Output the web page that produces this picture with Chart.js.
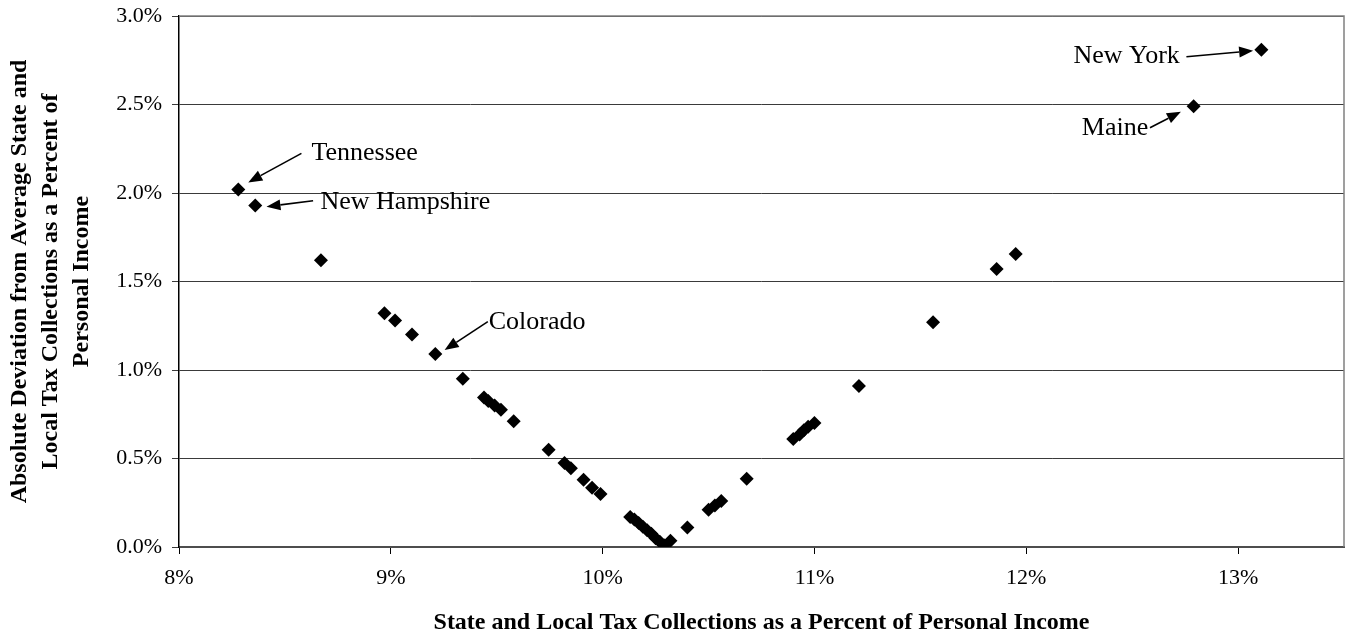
<!DOCTYPE html>
<html>
<head>
<meta charset="utf-8">
<title>Tax collections deviation</title>
<script src="https://cdn.jsdelivr.net/npm/chart.js@4.4.1/dist/chart.umd.min.js"></script>
<style>
  html, body { margin: 0; padding: 0; background: #fff; }
  #wrap { width: 1351px; height: 636px; }
</style>
</head>
<body>
<div id="wrap"><canvas id="chart" width="1351" height="636"></canvas></div>
<script>
  // state & local tax collections, % of personal income
  const taxShare = [
    8.28, 8.36, 8.67, 8.97, 9.02, 9.10, 9.21, 9.34, 9.44, 9.46,
    9.49, 9.52, 9.58, 9.745, 9.82, 9.85, 9.91, 9.95, 9.99, 10.13,
    10.15, 10.17, 10.19, 10.21, 10.23, 10.25, 10.27, 10.29, 10.32, 10.40,
    10.50, 10.53, 10.56, 10.68, 10.90, 10.93, 10.95, 10.97, 11.00, 11.21,
    11.56, 11.86, 11.95, 12.79, 13.11
  ];
  // absolute deviation from the average, % of personal income
  const deviation = [
    2.02, 1.93, 1.62, 1.32, 1.28, 1.20, 1.09, 0.95, 0.845, 0.825,
    0.80, 0.775, 0.71, 0.55, 0.475, 0.445, 0.38, 0.335, 0.30, 0.17,
    0.155, 0.135, 0.115, 0.095, 0.075, 0.05, 0.03, 0.01, 0.035, 0.11,
    0.21, 0.235, 0.26, 0.385, 0.61, 0.635, 0.66, 0.68, 0.70, 0.91,
    1.27, 1.57, 1.655, 2.49, 2.81
  ];

  const xTicks = [8, 9, 10, 11, 12, 13];
  const yTicks = [0, 0.5, 1.0, 1.5, 2.0, 2.5, 3.0];

  const xTitle = "State and Local Tax Collections as a Percent of Personal Income";
  const yTitle = [
    "Absolute Deviation from Average State and",
    "Local Tax Collections as a Percent of",
    "Personal Income"
  ];

  // callouts: label text, where the text sits, arrow tail and head (data units)
  const callouts = [
    { text: "Tennessee", align: "left", at: [8.625, 2.226], from: [8.578, 2.224], to: [8.327, 2.060] },
    { text: "New Hampshire", align: "left", at: [8.668, 1.951], from: [8.633, 1.956], to: [8.413, 1.923] },
    { text: "Colorado", align: "left", at: [9.462, 1.273], from: [9.458, 1.273], to: [9.254, 1.113] },
    { text: "New York", align: "right", at: [12.725, 2.774], from: [12.756, 2.770], to: [13.071, 2.804] },
    { text: "Maine", align: "right", at: [12.576, 2.365], from: [12.584, 2.369], to: [12.730, 2.459] }
  ];

  const serif = "'Liberation Serif', 'Times New Roman', serif";

  const points = taxShare.map((x, i) => ({ x: x, y: deviation[i] }));

  function drawArrow(ctx, x1, y1, x2, y2) {
    const ang = Math.atan2(y2 - y1, x2 - x1);
    const headLen = 14, headHalf = 5.5;
    const bx = x2 - headLen * Math.cos(ang);
    const by = y2 - headLen * Math.sin(ang);
    ctx.beginPath();
    ctx.moveTo(x1, y1);
    ctx.lineTo(bx, by);
    ctx.stroke();
    ctx.beginPath();
    ctx.moveTo(x2, y2);
    ctx.lineTo(bx + headHalf * Math.sin(ang), by - headHalf * Math.cos(ang));
    ctx.lineTo(bx - headHalf * Math.sin(ang), by + headHalf * Math.cos(ang));
    ctx.closePath();
    ctx.fill();
  }

  const frameAndCallouts = {
    id: "frameAndCallouts",
    beforeDatasetsDraw(chart) {
      const { ctx, chartArea: a } = chart;
      ctx.save();
      ctx.strokeStyle = "#808080";
      ctx.lineWidth = 1.5;
      ctx.beginPath();
      ctx.moveTo(a.left, a.top);
      ctx.lineTo(a.right, a.top);
      ctx.lineTo(a.right, a.bottom);
      ctx.stroke();
      ctx.restore();
    },
    afterDatasetsDraw(chart) {
      const { ctx } = chart;
      const sx = chart.scales.x, sy = chart.scales.y;
      ctx.save();
      ctx.fillStyle = "#000";
      ctx.strokeStyle = "#000";
      ctx.lineWidth = 1.6;
      ctx.font = "26px " + serif;
      ctx.textBaseline = "middle";
      callouts.forEach(c => {
        ctx.textAlign = c.align;
        ctx.fillText(c.text, sx.getPixelForValue(c.at[0]), sy.getPixelForValue(c.at[1]));
        drawArrow(ctx,
          sx.getPixelForValue(c.from[0]), sy.getPixelForValue(c.from[1]),
          sx.getPixelForValue(c.to[0]), sy.getPixelForValue(c.to[1]));
      });
      ctx.restore();
    }
  };

  new Chart(document.getElementById("chart"), {
    type: "scatter",
    data: {
      datasets: [{
        data: points,
        pointStyle: "rectRot",
        pointRadius: 7,
        pointHoverRadius: 7,
        backgroundColor: "#000",
        borderColor: "#000",
        borderWidth: 0
      }]
    },
    options: {
      responsive: false,
      animation: false,
      devicePixelRatio: 1,
      layout: { padding: { top: 16, right: 5, left: 0, bottom: 0 } },
      plugins: { legend: { display: false }, tooltip: { enabled: false } },
      scales: {
        x: {
          type: "linear",
          min: 8,
          max: 13.5,
          afterFit: s => { s.height = 89; s.paddingLeft = 0; s.paddingRight = 0; },
          afterBuildTicks: s => { s.ticks = xTicks.map(v => ({ value: v })); },
          ticks: {
            color: "#000",
            padding: 11,
            font: { family: serif, size: 22 },
            callback: v => v + "%"
          },
          grid: { drawOnChartArea: false, drawTicks: true, tickLength: 7, color: "#000" },
          border: { color: "#4d4d4d", width: 2 },
          title: {
            display: true,
            text: xTitle,
            color: "#000",
            padding: { top: 0, bottom: 0 },
            font: { family: serif, size: 24, weight: "bold", lineHeight: 1.1 }
          }
        },
        y: {
          type: "linear",
          min: 0,
          max: 3,
          afterFit: s => { s.width = 179; s.paddingTop = 0; s.paddingBottom = 0; },
          afterBuildTicks: s => { s.ticks = yTicks.map(v => ({ value: v })); },
          ticks: {
            color: "#000",
            padding: 10,
            font: { family: serif, size: 22 },
            callback: v => v.toFixed(1) + "%"
          },
          grid: { color: "#3a3a3a", lineWidth: 1, tickLength: 7 },
          border: { color: "#000", width: 1.5 },
          title: {
            display: true,
            text: yTitle,
            color: "#000",
            padding: { top: 4, bottom: 0 },
            font: { family: serif, size: 24, weight: "bold", lineHeight: 1.3 }
          }
        }
      }
    },
    plugins: [frameAndCallouts]
  });
</script>
</body>
</html>
